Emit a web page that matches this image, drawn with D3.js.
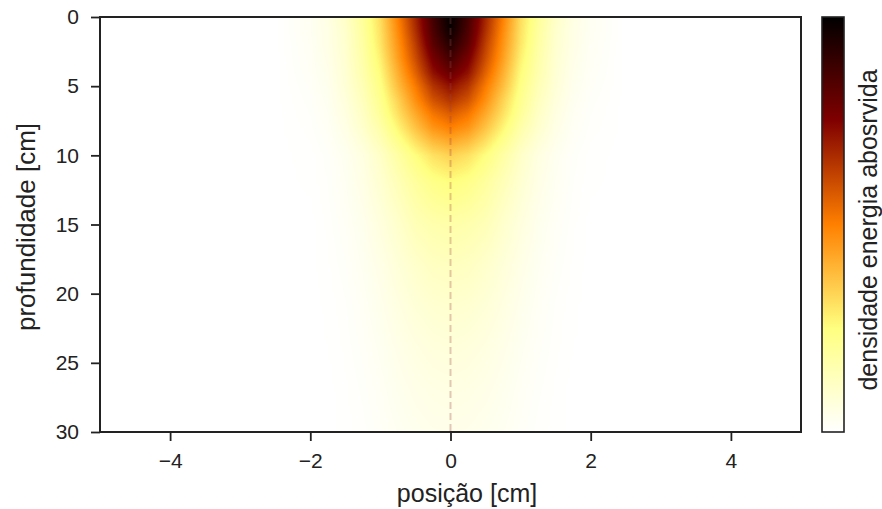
<!DOCTYPE html>
<html>
<head>
<meta charset="utf-8">
<script src="https://cdn.jsdelivr.net/npm/d3@7"></script>
<style>
  body { margin: 0; background: #fff; }
  text { font-family: "Liberation Sans", Arial, sans-serif; fill: #222; }
</style>
</head>
<body>
<div id="chart"></div>
<script>
// grid (symmetric about x = 0)
const depths = [0, 1, 2, 3, 4, 5, 6, 7, 8, 10, 12, 15, 18, 21, 24, 27, 30];
const positions = [0, 0.25, 0.5, 0.75, 1, 1.25, 1.5, 1.75, 2, 2.5, 3, 5];
const density = [
  [1.00, 0.87, 0.68, 0.50, 0.32, 0.20, 0.11, 0.055, 0.025, 0, 0, 0],
  [0.98, 0.85, 0.66, 0.48, 0.31, 0.19, 0.10, 0.050, 0.025, 0, 0, 0],
  [0.93, 0.82, 0.63, 0.46, 0.30, 0.18, 0.095, 0.050, 0.022, 0, 0, 0],
  [0.87, 0.77, 0.60, 0.44, 0.28, 0.17, 0.090, 0.045, 0.020, 0, 0, 0],
  [0.80, 0.72, 0.56, 0.41, 0.26, 0.16, 0.085, 0.040, 0.018, 0, 0, 0],
  [0.72, 0.65, 0.51, 0.38, 0.24, 0.145, 0.080, 0.035, 0.015, 0, 0, 0],
  [0.65, 0.59, 0.47, 0.34, 0.22, 0.13, 0.070, 0.030, 0.012, 0, 0, 0],
  [0.57, 0.52, 0.42, 0.31, 0.20, 0.115, 0.060, 0.025, 0.010, 0, 0, 0],
  [0.50, 0.46, 0.37, 0.27, 0.17, 0.10, 0.050, 0.020, 0.008, 0, 0, 0],
  [0.34, 0.31, 0.25, 0.18, 0.11, 0.06, 0.030, 0.012, 0.004, 0, 0, 0],
  [0.25, 0.23, 0.19, 0.14, 0.09, 0.05, 0.025, 0.010, 0.003, 0, 0, 0],
  [0.17, 0.16, 0.14, 0.10, 0.065, 0.035, 0.018, 0.007, 0, 0, 0, 0],
  [0.125, 0.12, 0.10, 0.075, 0.048, 0.027, 0.013, 0.005, 0, 0, 0, 0],
  [0.095, 0.09, 0.077, 0.058, 0.037, 0.02, 0.009, 0.003, 0, 0, 0, 0],
  [0.072, 0.068, 0.058, 0.044, 0.028, 0.015, 0.007, 0.002, 0, 0, 0, 0],
  [0.055, 0.052, 0.045, 0.034, 0.021, 0.011, 0.005, 0, 0, 0, 0, 0],
  [0.042, 0.040, 0.034, 0.026, 0.016, 0.008, 0.004, 0, 0, 0, 0, 0]
];
const xTicks = [-4, -2, 0, 2, 4];
const yTicks = [0, 5, 10, 15, 20, 25, 30];

const margin = {top: 17, left: 100},
  width = 701,
  height = 415;

const svg = d3.select("#chart").append("svg")
  .attr("width", 882)
  .attr("height", 509);
const g = svg.append("g")
  .attr("transform", `translate(${margin.left},${margin.top})`);

const x = d3.scaleLinear().domain([-5, 5]).range([0, width]);
const y = d3.scaleLinear().domain([0, 30]).range([0, height]);

// afmhot reversed: 0 -> white, 1 -> black
const color = d3.scaleLinear()
  .domain([0, 0.25, 0.5, 0.75, 1])
  .range(["#ffffff", "#ffff80", "#ff8000", "#800000", "#000000"])
  .clamp(true);

const lut = d3.range(256).map(i => d3.rgb(color(i / 255)));

function cellIndex(arr, v) {
  let i = d3.bisectRight(arr, v) - 1;
  i = Math.max(0, Math.min(arr.length - 2, i));
  const f = Math.max(0, Math.min(1, (v - arr[i]) / (arr[i + 1] - arr[i])));
  return [i, f];
}

function valueAt(px, dz) {
  const [i, fx] = cellIndex(positions, Math.abs(px));
  const [j, fz] = cellIndex(depths, dz);
  const a = density[j][i], b = density[j][i + 1];
  const c = density[j + 1][i], d = density[j + 1][i + 1];
  return (a * (1 - fx) + b * fx) * (1 - fz) + (c * (1 - fx) + d * fx) * fz;
}

// heat image
const canvas = document.createElement("canvas");
canvas.width = width;
canvas.height = height;
const ctx = canvas.getContext("2d");
const img = ctx.createImageData(width, height);
for (let py = 0; py < height; py++) {
  const dz = y.invert(py + 0.5);
  for (let px = 0; px < width; px++) {
    const v = valueAt(x.invert(px + 0.5), dz);
    const c = lut[Math.round(Math.max(0, Math.min(1, v)) * 255)];
    const k = (py * width + px) * 4;
    img.data[k] = c.r; img.data[k + 1] = c.g; img.data[k + 2] = c.b; img.data[k + 3] = 255;
  }
}
ctx.putImageData(img, 0, 0);

g.append("image")
  .attr("href", canvas.toDataURL())
  .attr("width", width)
  .attr("height", height)
  .attr("preserveAspectRatio", "none");

// dashed centre line
g.append("line")
  .attr("x1", x(0)).attr("x2", x(0))
  .attr("y1", y(0)).attr("y2", y(30))
  .attr("stroke", "rgba(160,70,70,0.3)")
  .attr("stroke-width", 2)
  .attr("stroke-dasharray", "7,4");

// axes
const xAxis = g.append("g")
  .attr("transform", `translate(0,${height})`)
  .call(d3.axisBottom(x).tickValues(xTicks).tickSize(9).tickPadding(12));
const yAxis = g.append("g")
  .call(d3.axisLeft(y).tickValues(yTicks).tickSize(9).tickPadding(12));
[xAxis, yAxis].forEach(a => {
  a.select(".domain").remove();
  a.selectAll(".tick line").attr("stroke", "#222").attr("stroke-width", 1.8);
  a.selectAll(".tick text").style("font-size", "21px").style("fill", "#222");
});

g.append("rect")
  .attr("width", width).attr("height", height)
  .attr("fill", "none").attr("stroke", "#222").attr("stroke-width", 2);

// colour bar
const grad = svg.append("defs").append("linearGradient")
  .attr("id", "cbar").attr("x1", 0).attr("y1", 1).attr("x2", 0).attr("y2", 0);
grad.selectAll("stop")
  .data(d3.range(0, 1.0001, 0.05))
  .enter().append("stop")
  .attr("offset", d => d)
  .attr("stop-color", d => color(d));

g.append("rect")
  .attr("x", 722).attr("y", 0)
  .attr("width", 22).attr("height", height)
  .attr("fill", "url(#cbar)")
  .attr("stroke", "#222").attr("stroke-width", 1.6);

// labels
svg.append("text")
  .attr("x", 467).attr("y", 502)
  .attr("text-anchor", "middle")
  .style("font-size", "25px")
  .text("posição [cm]");

svg.append("text")
  .attr("transform", "translate(35,227) rotate(-90)")
  .attr("text-anchor", "middle")
  .style("font-size", "26px")
  .text("profundidade [cm]");

svg.append("text")
  .attr("transform", "translate(877,230) rotate(-90)")
  .attr("text-anchor", "middle")
  .style("font-size", "25px")
  .text("densidade energia abosrvida");
</script>
</body>
</html>
